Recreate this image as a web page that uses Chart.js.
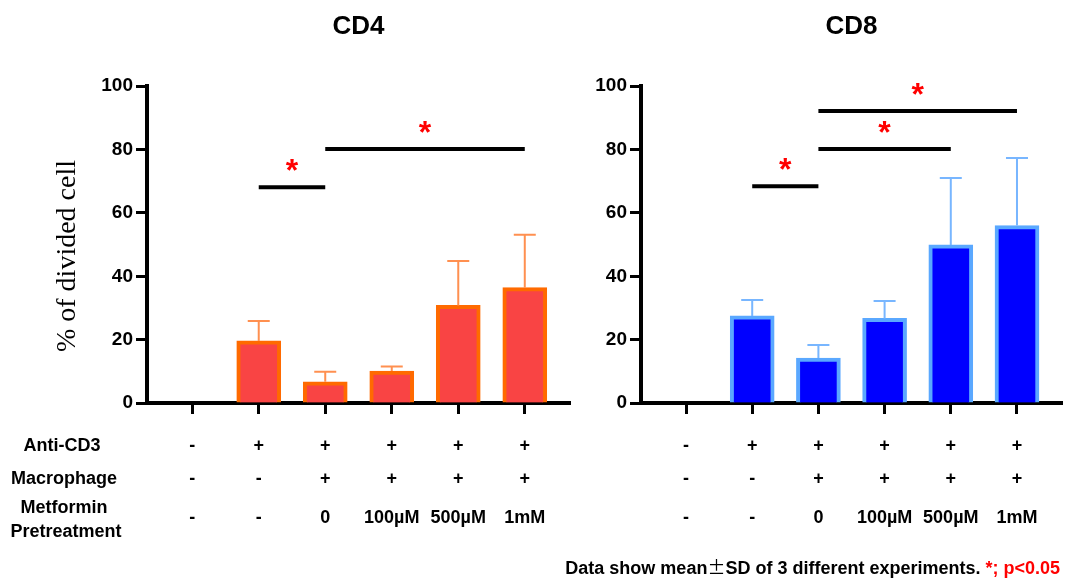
<!DOCTYPE html>
<html>
<head>
<meta charset="utf-8">
<script src="https://cdn.jsdelivr.net/npm/chart.js@4"></script>
<style>
    body { margin: 0; background: #fff; width: 1065px; height: 585px; position: relative; overflow: hidden; }
    canvas { position: absolute; top: 0; }
    #cd4 { left: 0; }
    #cd8 { left: 575px; }
    .note {
        position: absolute; right: 5px; top: 553px;
        font: bold 18px "Liberation Sans", Arial, sans-serif; color: #000; white-space: nowrap;
    }
    .note .pm { font-family: "Noto Sans CJK JP", sans-serif; font-weight: normal; }
    .note .red { color: #ff0000; }
</style>
</head>
<body>
<canvas id="cd4" width="575" height="585"></canvas>
<canvas id="cd8" width="490" height="585"></canvas>
<div class="note">Data show mean<span class="pm">±</span>SD of 3 different experiments. <span class="red">*; p&lt;0.05</span></div>

<script>
// ── Data ──
const groups = [0, 1, 2, 3, 4, 5];
const cd4Mean = [0, 19.6, 6.7, 10.1, 30.8, 36.4];
const cd4Sd = [0, 6.3, 3.2, 1.4, 14.0, 16.7];
const cd8Mean = [0, 27.5, 14.2, 26.7, 49.9, 56.0];
const cd8Sd = [0, 5.0, 4.1, 5.5, 21.1, 21.3];
const yTicks = [0, 20, 40, 60, 80, 100];

// significance brackets: [from group, to group, y value]
const cd4Sig = [[1, 2, 68.1], [2, 5, 80.2]];
const cd8Sig = [[1, 2, 68.4], [2, 4, 80.2], [2, 5, 92.2]];

// condition table under the bars
const antiCD3 = ['-', '+', '+', '+', '+', '+'];
const macrophage = ['-', '-', '+', '+', '+', '+'];
const metformin = ['-', '-', '0', '100µM', '500µM', '1mM'];

const SANS = '"Liberation Sans", Arial, sans-serif';

// ── Extras: error bars, brackets, stars, table ──
const extrasPlugin = {
    id: 'extras',
    afterDatasetsDraw(chart, args, opts) {
        const ctx = chart.ctx;
        const x = chart.scales.x;
        const y = chart.scales.y;

        // error bars (upper only)
        const meta = chart.getDatasetMeta(0);
        ctx.save();
        ctx.strokeStyle = opts.errColor;
        ctx.lineWidth = 2;
        meta.data.forEach((bar, i) => {
            if (!opts.sd[i]) return;
            const top = y.getPixelForValue(opts.mean[i] + opts.sd[i]);
            ctx.beginPath();
            ctx.moveTo(bar.x, bar.y);
            ctx.lineTo(bar.x, top);
            ctx.moveTo(bar.x - 11, top);
            ctx.lineTo(bar.x + 11, top);
            ctx.stroke();
        });

        // significance lines + stars
        ctx.strokeStyle = '#000';
        ctx.lineWidth = 4;
        ctx.fillStyle = '#ff0000';
        ctx.font = `bold 32px ${SANS}`;
        ctx.textAlign = 'center';
        ctx.textBaseline = 'alphabetic';
        opts.sig.forEach(([a, b, v]) => {
            const py = y.getPixelForValue(v);
            const x1 = x.getPixelForValue(a);
            const x2 = x.getPixelForValue(b);
            ctx.beginPath();
            ctx.moveTo(x1, py);
            ctx.lineTo(x2, py);
            ctx.stroke();
            ctx.fillText('*', (x1 + x2) / 2, py - 6);
        });

        // table values
        ctx.fillStyle = '#000';
        ctx.font = `bold 18px ${SANS}`;
        ctx.textBaseline = 'middle';
        groups.forEach(i => {
            const px = x.getPixelForValue(i);
            ctx.fillText(antiCD3[i], px, 446);
            ctx.fillText(macrophage[i], px, 479);
            ctx.fillText(metformin[i], px, 518);
        });

        if (opts.rowLabels) {
            ctx.fillText('Anti-CD3', 62, 446);
            ctx.fillText('Macrophage', 64, 479);
            ctx.fillText('Metformin', 64, 508);
            ctx.fillText('Pretreatment', 66, 532);

            // y axis title
            ctx.save();
            ctx.translate(68, 256);
            ctx.rotate(-Math.PI / 2);
            ctx.font = '28px "Liberation Serif", "Times New Roman", serif';
            ctx.fillText('% of divided cell', 0, 0);
            ctx.restore();
        }
        ctx.restore();
    }
};

function makeChart(id, title, mean, sd, sig, colors, pad, rowLabels) {
    return new Chart(document.getElementById(id), {
        type: 'bar',
        data: {
            datasets: [{
                data: groups.map(i => ({ x: i, y: mean[i] })),
                backgroundColor: colors.fill,
                borderColor: colors.border,
                borderWidth: 4,
                borderSkipped: 'start',
                barThickness: 44,
            }],
        },
        options: {
            responsive: false,
            animation: false,
            layout: { padding: pad },
            plugins: {
                legend: { display: false },
                tooltip: { enabled: false },
                title: {
                    display: true,
                    text: title,
                    fullSize: false,
                    color: '#000',
                    font: { family: SANS, size: 26, weight: 'bold', lineHeight: 1.2 },
                    padding: { top: 11, bottom: 44 },
                },
                extras: { mean, sd, sig, errColor: colors.err, rowLabels },
            },
            scales: {
                x: {
                    type: 'linear',
                    min: -0.68,
                    max: 5.68,
                    offset: false,
                    afterBuildTicks: s => { s.ticks = groups.map(v => ({ value: v })); },
                    afterFit: s => { s.height = 12; },
                    ticks: { display: false },
                    grid: { offset: false, drawOnChartArea: false, drawTicks: true, tickLength: 11, tickWidth: 3, tickColor: '#000' },
                    border: { color: '#000', width: 4 },
                },
                y: {
                    min: 0,
                    max: 100,
                    afterBuildTicks: s => { s.ticks = yTicks.map(v => ({ value: v })); },
                    afterFit: s => { s.width = 60; },
                    ticks: { color: '#000', padding: 3, font: { family: SANS, size: 19, weight: 'bold' } },
                    grid: { drawOnChartArea: false, drawTicks: true, tickLength: 11, tickWidth: 3, tickColor: '#000' },
                    border: { color: '#000', width: 4 },
                },
            },
        },
        plugins: [extrasPlugin],
    });
}

makeChart('cd4', 'CD4', cd4Mean, cd4Sd, cd4Sig,
    { fill: '#f94444', border: '#ff6a00', err: '#ff9050' },
    { left: 87, right: 5, top: 0, bottom: 170 }, true);

makeChart('cd8', 'CD8', cd8Mean, cd8Sd, cd8Sig,
    { fill: '#0000ff', border: '#5aa8ff', err: '#78b6ff' },
    { left: 6, right: 3, top: 0, bottom: 170 }, false);
</script>
</body>
</html>
